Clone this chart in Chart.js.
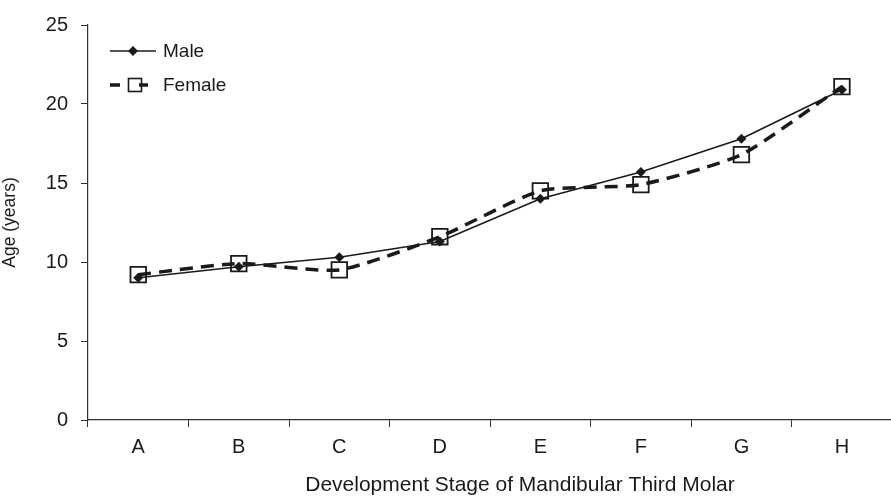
<!DOCTYPE html>
<html>
<head>
<meta charset="utf-8">
<script src="https://cdn.jsdelivr.net/npm/chart.js@4.4.1/dist/chart.umd.min.js"></script>
<style>
  html, body { margin: 0; padding: 0; background: #fff; overflow: hidden; }
  #wrap { width: 905px; height: 502px; }
</style>
</head>
<body>
<div id="wrap"><canvas id="grafico"></canvas></div>
<script>
// datos
const etapas = ['A', 'B', 'C', 'D', 'E', 'F', 'G', 'H'];
const edadHombres = [9.0, 9.7, 10.3, 11.3, 14.0, 15.7, 17.8, 20.9];
const edadMujeres = [9.2, 9.9, 9.5, 11.6, 14.5, 14.9, 16.8, 21.1];
const ticksEdad = [0, 5, 10, 15, 20, 25];

Chart.defaults.font.family = '"Liberation Sans", Arial, sans-serif';
Chart.defaults.color = '#1a1a1a';

// leyenda dibujada a mano (linea + marcador como en el original)
const leyendaPropia = {
  id: 'leyendaPropia',
  afterDraw(chart) {
    const ctx = chart.ctx;
    ctx.save();
    ctx.font = '19px "Liberation Sans", Arial, sans-serif';
    ctx.fillStyle = '#1a1a1a';
    ctx.textBaseline = 'middle';

    // Male
    ctx.strokeStyle = '#1a1a1a';
    ctx.lineWidth = 1.5;
    ctx.beginPath();
    ctx.moveTo(110, 51); ctx.lineTo(156, 51);
    ctx.stroke();
    ctx.beginPath();
    ctx.moveTo(133, 46); ctx.lineTo(138, 51); ctx.lineTo(133, 56); ctx.lineTo(128, 51);
    ctx.closePath();
    ctx.fill();
    ctx.fillText('Male', 163, 52);

    // Female
    ctx.lineWidth = 3.5;
    ctx.beginPath();
    ctx.moveTo(110, 85); ctx.lineTo(120, 85);
    ctx.moveTo(139, 85); ctx.lineTo(148, 85);
    ctx.stroke();
    ctx.lineWidth = 1.6;
    ctx.strokeRect(128.5, 78.5, 13, 13);
    ctx.fillText('Female', 163, 86);
    ctx.restore();
  }
};

// titulo del eje X desplazado un poco a la derecha, como en el original
const tituloX = {
  id: 'tituloX',
  afterDraw(chart) {
    const ctx = chart.ctx;
    ctx.save();
    ctx.font = '21px "Liberation Sans", Arial, sans-serif';
    ctx.fillStyle = '#1a1a1a';
    ctx.textAlign = 'center';
    ctx.textBaseline = 'middle';
    ctx.fillText('Development Stage of Mandibular Third Molar', 520, 485);
    ctx.restore();
  }
};

const ctx = document.getElementById('grafico').getContext('2d');
window.grafico = new Chart(ctx, {
  type: 'line',
  data: {
    labels: etapas,
    datasets: [
      {
        label: 'Female',
        data: edadMujeres,
        borderColor: '#1a1a1a',
        borderWidth: 3.5,
        borderDash: [13, 8],
        pointStyle: 'rect',
        pointRadius: 11,
        pointBorderWidth: 1.8,
        pointBorderColor: '#1a1a1a',
        pointBackgroundColor: 'rgba(0,0,0,0)',
        tension: 0.2,
        order: 2
      },
      {
        label: 'Male',
        data: edadHombres,
        borderColor: '#1a1a1a',
        borderWidth: 1.6,
        pointStyle: 'rectRot',
        pointRadius: 5,
        pointBorderWidth: 0,
        pointBackgroundColor: '#1a1a1a',
        tension: 0,
        order: 1
      }
    ]
  },
  options: {
    responsive: true,
    maintainAspectRatio: false,
    animation: false,
    layout: { padding: { left: 0, top: 13, right: 5, bottom: 0 } },
    plugins: {
      legend: { display: false },
      tooltip: { enabled: false }
    },
    scales: {
      x: {
        offset: true,
        grid: {
          offset: true,
          drawOnChartArea: false,
          tickLength: 7,
          color: '#333',
          lineWidth: 1
        },
        border: { color: '#333', width: 1.2 },
        ticks: { font: { size: 20 }, padding: 8, color: '#1a1a1a' },
        title: { display: false },
        afterFit(s) { s.height = 82; }
      },
      y: {
        min: 0,
        max: 25,
        afterBuildTicks(s) { s.ticks = ticksEdad.map(v => ({ value: v })); },
        grid: {
          drawOnChartArea: false,
          tickLength: 7,
          color: '#333'
        },
        border: { color: '#333', width: 1.2 },
        ticks: { font: { size: 20 }, padding: 13, color: '#1a1a1a' },
        title: {
          display: true,
          text: 'Age (years)',
          font: { size: 17.5 },
          padding: { top: 0, bottom: 4 },
          color: '#1a1a1a'
        },
        afterFit(s) { s.width = 88; }
      }
    }
  },
  plugins: [leyendaPropia, tituloX]
});
</script>
</body>
</html>
